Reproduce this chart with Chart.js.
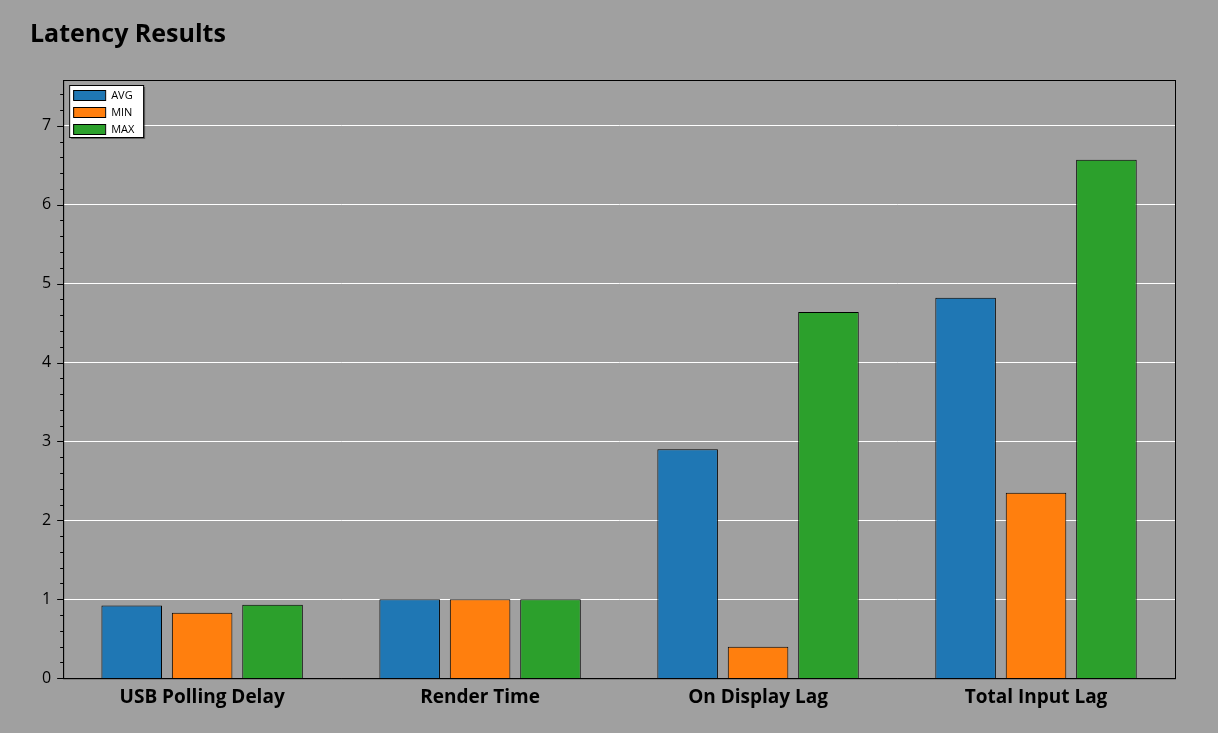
<!DOCTYPE html>
<html><head><meta charset="utf-8">
<script src="https://cdn.jsdelivr.net/npm/chart.js@4"></script>
<style>html,body{margin:0;background:#a0a0a0}#wrap{width:1218px;height:733px}</style>
</head><body><div id="wrap"><canvas id="c"></canvas></div>
<script>
// ---- data ----
const categories = ["USB Polling Delay", "Render Time", "On Display Lag", "Total Input Lag"];
const avgValues = [0.92, 1.0, 2.90, 4.82];
const minValues = [0.83, 1.0, 0.40, 2.35];
const maxValues = [0.93, 1.0, 4.64, 6.57];
const seriesNames = ["AVG", "MIN", "MAX"];
const seriesColors = ["#1f77b4", "#ff7f0e", "#2ca02c"];

// legend box drawn inside plot + minor ticks
const extras = {
    id: "extras",
    afterDatasetsDraw(chart) {
        const ctx = chart.ctx, a = chart.chartArea, y = chart.scales.y;
        ctx.save();
        // minor ticks
        ctx.strokeStyle = "#000"; ctx.lineWidth = 1;
        for (let i = 0; i <= 37; i++) {
            const v = i * 0.2;
            const py = Math.round(y.getPixelForValue(v)) + 0.5;
            const major = i % 5 === 0;
            ctx.beginPath();
            ctx.moveTo(a.left - (major ? 6 : 3), py);
            ctx.lineTo(a.left, py);
            ctx.stroke();
        }
        // plot frame
        ctx.strokeRect(a.left + 0.5, a.top + 0.5, a.right - a.left, a.bottom - a.top);
        // legend
        const lx = a.left + 6, ly = a.top + 5, lw = 74, lh = 52;
        ctx.shadowColor = "rgba(0,0,0,0.4)"; ctx.shadowOffsetX = 2; ctx.shadowOffsetY = 2;
        ctx.fillStyle = "#fff"; ctx.fillRect(lx, ly, lw, lh);
        ctx.shadowColor = "transparent";
        ctx.strokeRect(lx + 0.5, ly + 0.5, lw, lh);
        ctx.font = "11px 'Open Sans', sans-serif";
        ctx.textBaseline = "middle";
        seriesNames.forEach((n, i) => {
            const ry = ly + 5 + i * 17;
            ctx.fillStyle = seriesColors[i];
            ctx.fillRect(lx + 4, ry, 32, 10);
            ctx.strokeRect(lx + 4.5, ry + 0.5, 32, 10);
            ctx.fillStyle = "#000";
            ctx.fillText(n, lx + 42, ry + 6);
        });
        ctx.restore();
    }
};

const mk = (i, data) => ({
    label: seriesNames[i], data,
    backgroundColor: seriesColors[i],
    borderColor: "#000", borderWidth: 1,
    categoryPercentage: 0.76, barPercentage: 0.86
});

new Chart(document.getElementById("c"), {
    type: "bar",
    data: {
        labels: categories,
        datasets: [mk(0, avgValues), mk(1, minValues), mk(2, maxValues)]
    },
    options: {
        responsive: true, maintainAspectRatio: false, animation: false,
        layout: { padding: { left: 30, right: 43, top: 0, bottom: 16 } },
        plugins: {
            legend: { display: false },
            tooltip: { enabled: false },
            title: {
                display: true, text: "Latency Results", align: "start",
                color: "#000",
                font: { family: "'Open Sans', sans-serif", size: 25, weight: "bold" },
                padding: { top: 20, bottom: 30 }
            }
        },
        scales: {
            x: {
                grid: { display: false, drawTicks: false },
                border: { color: "#000" },
                ticks: { color: "#000", padding: 8,
                    font: { family: "'Open Sans', sans-serif", size: 19, weight: "bold" } }
            },
            y: {
                min: 0, max: 7.58,
                afterBuildTicks(s) { s.ticks = [0,1,2,3,4,5,6,7].map(v => ({ value: v })); },
                grid: { color: "#fff", drawTicks: false,
                    lineWidth: c => c.tick && c.tick.value === 0 ? 0 : 1 },
                border: { color: "#000" },
                ticks: { color: "#000", padding: 12,
                    font: { family: "'Open Sans', sans-serif", size: 16 } }
            }
        }
    },
    plugins: [extras]
});
</script></body></html>
